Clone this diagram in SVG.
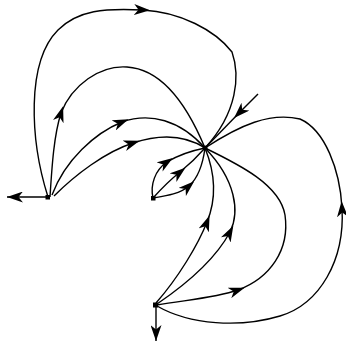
<svg xmlns="http://www.w3.org/2000/svg" width="346" height="350" viewBox="0 0 346 350">
<defs>
<marker id="mid" viewBox="0 0 16 11" markerWidth="16" markerHeight="11" refX="9" refY="5.5" orient="auto" markerUnits="userSpaceOnUse"><path d="M0,0 L16,5.5 L0,11 L4.5,5.5 z" fill="#000"/></marker>
<marker id="tip" viewBox="0 0 16 11" markerWidth="16" markerHeight="11" refX="16" refY="5.5" orient="auto" markerUnits="userSpaceOnUse"><path d="M0,0 L16,5.5 L0,11 L4.5,5.5 z" fill="#000"/></marker>
</defs>
<style>
.e path{fill:none;stroke:#000;stroke-width:1.4}
.e path.a{marker-end:url(#mid)}
.e path.t{marker-end:url(#tip)}
.n{fill:#000}
</style>
<rect width="346" height="350" fill="#fff"/>
<g id="connectors" class="e">
<g id="L-C-1"><path class="a" d="M48,197 C30,140 26,62 58,30 C78,10 105,8 143,10"/><path d="M143,10 C180,12 215,30 232,52 C240,75 238,112 205,148"/></g>
<g id="L-C-2"><path class="a" d="M50,197 C52,165 54,135 61,113"/><path d="M61,113 C72,85 100,65 127,67 C160,69 185,100 205,148"/></g>
<g id="L-C-3"><path class="a" d="M52,195 C65,160 95,133 122,122"/><path d="M122,122 C150,112 180,120 205,148"/></g>
<g id="L-C-4"><path class="a" d="M54,196 C75,175 105,152 133,143"/><path d="M133,143 C160,134 185,135 205,148"/></g>
<g id="L-out"><path class="t" d="M48,197 L7,197"/></g>
<g id="M-C-1"><path class="a" d="M153,198 C150,185 155,170 167,162"/><path d="M167,162 C180,154 195,150 205,148"/></g>
<g id="M-C-2"><path class="a" d="M153,198 C162,188 170,180 180,172"/><path d="M180,172 C190,164 198,156 205,148"/></g>
<g id="M-C-3"><path class="a" d="M153,198 C165,196 180,194 189,186"/><path d="M189,186 C198,178 203,163 205,148"/></g>
<g id="B-C-1"><path class="a" d="M156,303 C178,278 198,245 207,222"/><path d="M207,222 C214,205 218,180 205,148"/></g>
<g id="B-C-2"><path class="a" d="M157,304 C185,285 215,260 230,232"/><path d="M230,232 C240,212 236,180 205,148"/></g>
<g id="B-C-3"><path class="a" d="M157,305 C185,300 215,298 238,290"/><path d="M238,290 C270,278 290,250 285,215 C280,185 240,165 205,148"/></g>
<g id="B-C-4"><path class="a" d="M157,306 C190,325 240,328 280,316 C320,304 345,260 342,208"/><path d="M342,208 C340,170 325,130 300,119 C270,112 240,125 205,148"/></g>
<g id="in-C"><path class="a" d="M258,94 L239,113"/><path d="M239,113 L205,148"/></g>
<g id="B-out"><path class="t" d="M156,305 L156,341"/></g>
</g>
<g id="C"><circle class="n" cx="205" cy="148" r="2.5"/></g>
<g id="L"><rect class="n" x="45.5" y="195" width="4.5" height="4.5"/></g>
<g id="M"><rect class="n" x="151" y="196" width="4.5" height="4.5"/></g>
<g id="B"><rect class="n" x="153" y="302.5" width="5" height="5"/></g>
</svg>
